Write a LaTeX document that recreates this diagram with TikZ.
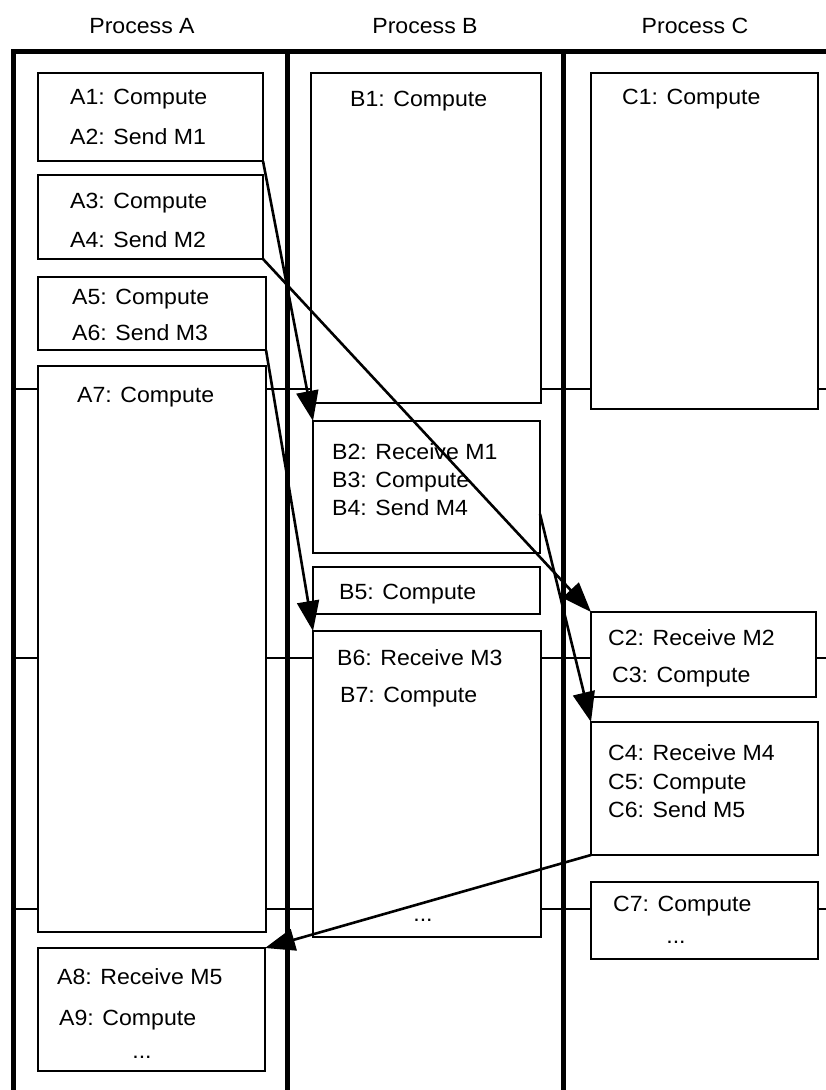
\documentclass[tikz,border=0pt]{standalone}
\usepackage{fontspec}
\setmainfont{Liberation Sans}[FakeStretch=1.05]
\usetikzlibrary{arrows.meta}
\begin{document}
\begin{tikzpicture}[x=1pt,y=-1pt,
  box/.style={draw,line width=2.2pt,fill=white,inner sep=0pt,outer sep=0pt,anchor=north west},
  lbl/.style={anchor=base west,inner sep=0pt,font=\fontsize{22}{26}\selectfont},
  clbl/.style={anchor=base,inner sep=0pt,font=\fontsize{22}{26}\selectfont},
  frame/.style={line width=5pt},
  grid/.style={line width=1.8pt},
  conn/.style={line width=2.6pt,-{Triangle[length=30pt,width=22pt]}}]
\useasboundingbox (0,0) rectangle (826,1090);
% titles
\node[clbl] (tA) at (142,33) {Process A};
\node[clbl] (tB) at (425,33) {Process B};
\node[clbl] (tC) at (695,33) {Process C};
% grid lines
\draw[grid] (13,389) -- (826,389);
\draw[grid] (13,658) -- (826,658);
\draw[grid] (13,909) -- (826,909);
% frame
\draw[frame] (13,1092) -- (13,51) -- (828,51);
\draw[frame] (287,51) -- (287,1092);
\draw[frame] (563,51) -- (563,1092);
% Process A boxes
\node[box,minimum width=225pt,minimum height=88pt] (A12) at (38,73) {};
\node[box,minimum width=225pt,minimum height=84pt] (A34) at (38,175) {};
\node[box,minimum width=228pt,minimum height=73pt] (A56) at (38,277) {};
\node[box,minimum width=228pt,minimum height=566pt] (A7) at (38,366) {};
\node[box,minimum width=227pt,minimum height=123pt] (A8) at (38,948) {};
% Process B boxes
\node[box,minimum width=230pt,minimum height=330pt] (B1) at (311,73) {};
\node[box,minimum width=227pt,minimum height=132pt] (B2) at (313,421) {};
\node[box,minimum width=227pt,minimum height=47pt] (B5) at (313,567) {};
\node[box,minimum width=228pt,minimum height=306pt] (B6) at (313,631) {};
% Process C boxes
\node[box,minimum width=227pt,minimum height=336pt] (C1) at (591,73) {};
\node[box,minimum width=225pt,minimum height=85pt] (C2) at (591,612) {};
\node[box,minimum width=227pt,minimum height=133pt] (C4) at (591,722) {};
\node[box,minimum width=227pt,minimum height=77pt] (C7) at (591,882) {};
% texts A
\node[lbl] (a1) at (70,104) {A1: Compute};
\node[lbl] (a2) at (70,144) {A2: Send M1};
\node[lbl] (a3) at (70,208) {A3: Compute};
\node[lbl] (a4) at (70,247) {A4: Send M2};
\node[lbl] (a5) at (72,304) {A5: Compute};
\node[lbl] (a6) at (72,340) {A6: Send M3};
\node[lbl] (a7) at (77,402) {A7: Compute};
\node[lbl] (a8) at (57,984) {A8: Receive M5};
\node[lbl] (a9) at (59,1025) {A9: Compute};
\node[clbl] (a10) at (142,1058) {...};
% texts B
\node[lbl] (b1) at (350,106) {B1: Compute};
\node[lbl] (b2) at (332,459) {B2: Receive M1};
\node[lbl] (b3) at (332,487) {B3: Compute};
\node[lbl] (b4) at (332,515) {B4: Send M4};
\node[lbl] (b5) at (339,599) {B5: Compute};
\node[lbl] (b6) at (337,665) {B6: Receive M3};
\node[lbl] (b7) at (340,702) {B7: Compute};
\node[clbl] (b8) at (423,921) {...};
% texts C
\node[lbl] (c1) at (622,104) {C1: Compute};
\node[lbl] (c2) at (608,645) {C2: Receive M2};
\node[lbl] (c3) at (612,682) {C3: Compute};
\node[lbl] (c4) at (608,760) {C4: Receive M4};
\node[lbl] (c5) at (608,789) {C5: Compute};
\node[lbl] (c6) at (608,817) {C6: Send M5};
\node[lbl] (c7) at (613,911) {C7: Compute};
\node[clbl] (c8) at (676,943) {...};
% messages
\draw[conn] (A12.south east) -- (B2.north west);
\draw[conn] (A34.south east) -- (C2.north west);
\draw[conn] (A56.south east) -- (B6.north west);
\draw[conn] ([yshift=-27pt]B2.east) -- (C4.north west);
\draw[conn] (C4.south west) -- (A8.north east);
\end{tikzpicture}
\end{document}
